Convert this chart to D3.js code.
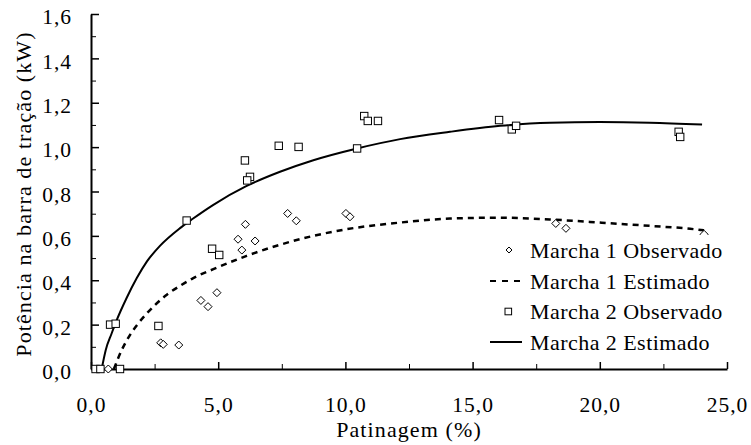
<!DOCTYPE html>
<html>
<head>
<meta charset="utf-8">
<script src="https://cdn.jsdelivr.net/npm/d3@7"></script>
<style>
  body { margin: 0; background: #fff; }
  svg { display: block; }
</style>
</head>
<body>
<svg id="chart" width="751" height="445"></svg>
<script>
const FONT = '"Liberation Serif"';

// Marcha 1 observed (patinagem %, kW)
const m1ObsX = [0.68, 2.74, 2.84, 3.45, 4.32, 4.60, 4.95, 5.78, 6.07, 5.93, 6.45, 7.73, 8.07, 10.02, 10.18, 18.27, 18.67, 24.1];
const m1ObsY = [0.0, 0.118, 0.111, 0.108, 0.309, 0.281, 0.344, 0.585, 0.652, 0.536, 0.577, 0.701, 0.668, 0.701, 0.686, 0.656, 0.634, 0.607];

// Marcha 2 observed
const m2ObsX = [0.18, 0.37, 1.14, 0.75, 0.97, 2.65, 3.76, 4.76, 5.04, 6.05, 6.25, 6.14, 7.38, 8.16, 10.46, 10.74, 10.88, 11.28, 16.04, 16.54, 16.71, 23.10, 23.16];
const m2ObsY = [0.0, 0.0, 0.0, 0.20, 0.204, 0.194, 0.669, 0.542, 0.514, 0.94, 0.866, 0.85, 1.006, 1.001, 0.994, 1.14, 1.118, 1.118, 1.122, 1.08, 1.096, 1.069, 1.046];

// Estimated curves
const m1EstX = [0.9, 1.21, 1.53, 1.86, 2.19, 2.98, 3.5, 4.02, 4.81, 6.12, 7.43, 8.74, 10.05, 12.15, 14.11, 16.08, 18.04, 20.0, 21.97, 23.55, 24.1];
const m1EstY = [0.0, 0.086, 0.153, 0.206, 0.25, 0.335, 0.375, 0.41, 0.45, 0.51, 0.56, 0.60, 0.63, 0.66, 0.678, 0.682, 0.674, 0.66, 0.645, 0.632, 0.625];
const m2EstX = [0.42, 0.58, 0.81, 1.01, 1.4, 1.8, 2.2, 2.71, 3.5, 4.0, 4.81, 6.12, 7.43, 8.74, 10.46, 12.15, 14.11, 16.08, 18.04, 20.0, 21.97, 24.02];
const m2EstY = [0.0, 0.086, 0.16, 0.22, 0.32, 0.41, 0.485, 0.555, 0.635, 0.677, 0.74, 0.825, 0.889, 0.941, 0.994, 1.036, 1.069, 1.096, 1.11, 1.113, 1.11, 1.102];

const xTicks = [0, 5, 10, 15, 20, 25];
const xMinor = [2.5, 7.5, 12.5, 17.5, 22.5];
const yTicks = [0, 0.2, 0.4, 0.6, 0.8, 1.0, 1.2, 1.4, 1.6];
const yMinor = [0.1, 0.3, 0.5, 0.7, 0.9, 1.1, 1.3, 1.5];

const legendLabels = ['Marcha 1 Observado', 'Marcha 1 Estimado', 'Marcha 2 Observado', 'Marcha 2 Estimado'];

const svg = d3.select('#chart');
const x = d3.scaleLinear().domain([0, 25]).range([91, 727]);
const y = d3.scaleLinear().domain([0, 1.6]).range([369, 14]);
const fmt = d => d3.format('.1f')(d).replace('.', ',');

// minor ticks first, main axes on top
svg.append('g')
  .attr('transform', 'translate(0,369)')
  .call(d3.axisBottom(x).tickValues(xMinor).tickSize(-5).tickFormat(''))
  .call(g => g.select('.domain').remove());
svg.append('g')
  .attr('transform', 'translate(91,0)')
  .call(d3.axisLeft(y).tickValues(yMinor).tickSize(-5).tickFormat(''))
  .call(g => g.select('.domain').remove());

const xAxis = svg.append('g')
  .attr('transform', 'translate(0,369)')
  .call(d3.axisBottom(x).tickValues(xTicks).tickSizeInner(-7).tickSizeOuter(0).tickPadding(28).tickFormat(fmt));
const yAxis = svg.append('g')
  .attr('transform', 'translate(91,0)')
  .call(d3.axisLeft(y).tickValues(yTicks).tickSizeInner(-8).tickSizeOuter(0).tickPadding(19).tickFormat(fmt));

[xAxis, yAxis].forEach(g => {
  g.attr('font-family', FONT).attr('font-size', 21.5);
  g.select('.domain').attr('stroke-width', 2);
  g.selectAll('.tick line').attr('stroke-width', 1.5);
  g.selectAll('text').attr('fill', '#000').attr('font-family', FONT).attr('letter-spacing', 1);
});
svg.selectAll('.tick line').attr('stroke', '#000');
yAxis.selectAll('text').attr('dy', '0.45em');

// axis titles
svg.append('text')
  .attr('x', 409).attr('y', 437)
  .attr('text-anchor', 'middle')
  .attr('font-family', FONT)
  .attr('font-size', 22)
  .attr('letter-spacing', 1.1)
  .text('Patinagem (%)');
svg.append('text')
  .attr('transform', 'translate(31,194) rotate(-90)')
  .attr('text-anchor', 'middle')
  .attr('font-family', FONT)
  .attr('font-size', 22)
  .attr('letter-spacing', 1.1)
  .text('Potência na barra de tração (kW)');

// estimated curves
const line = d3.line().x(d => x(d[0])).y(d => y(d[1])).curve(d3.curveMonotoneX);
svg.append('path')
  .datum(d3.zip(m1EstX, m1EstY))
  .attr('d', line)
  .attr('fill', 'none')
  .attr('stroke', '#000')
  .attr('stroke-width', 2.5)
  .attr('stroke-dasharray', '6,5');
svg.append('path')
  .datum(d3.zip(m2EstX, m2EstY))
  .attr('d', line)
  .attr('fill', 'none')
  .attr('stroke', '#000')
  .attr('stroke-width', 2);

// observed markers
const diamond = r => `M0,${-r}L${r},0L0,${r}L${-r},0Z`;
svg.append('g').selectAll('path')
  .data(d3.zip(m1ObsX, m1ObsY))
  .join('path')
  .attr('transform', d => `translate(${x(d[0])},${y(d[1])})`)
  .attr('d', diamond(4))
  .attr('fill', '#fff')
  .attr('stroke', '#000')
  .attr('stroke-width', 1);
svg.append('g').selectAll('rect')
  .data(d3.zip(m2ObsX, m2ObsY))
  .join('rect')
  .attr('x', d => x(d[0]) - 3.7)
  .attr('y', d => y(d[1]) - 3.7)
  .attr('width', 7.4)
  .attr('height', 7.4)
  .attr('fill', '#fff')
  .attr('stroke', '#000')
  .attr('stroke-width', 1);

// legend
const legend = svg.append('g');
legend.append('rect')
  .attr('x', 484).attr('y', 235)
  .attr('width', 250).attr('height', 125)
  .attr('fill', '#fff');
const rowY = [250, 281, 311.5, 342];
legendLabels.forEach((label, i) => {
  const cy = rowY[i];
  if (i === 0) {
    legend.append('path').attr('transform', `translate(509,${cy})`).attr('d', diamond(3))
      .attr('fill', '#fff').attr('stroke', '#000');
  } else if (i === 2) {
    legend.append('rect').attr('x', 505).attr('y', cy - 3.3).attr('width', 6.6).attr('height', 6.6)
      .attr('fill', '#fff').attr('stroke', '#000');
  } else {
    legend.append('line').attr('x1', 490).attr('x2', 522).attr('y1', cy).attr('y2', cy)
      .attr('stroke', '#000').attr('stroke-width', 2)
      .attr('stroke-dasharray', i === 1 ? '6,6' : null);
  }
  legend.append('text')
    .attr('x', 530).attr('y', cy + 7.5)
    .attr('font-family', FONT)
    .attr('font-size', 22)
    .attr('letter-spacing', 0.45)
    .text(label);
});
</script>
</body>
</html>
